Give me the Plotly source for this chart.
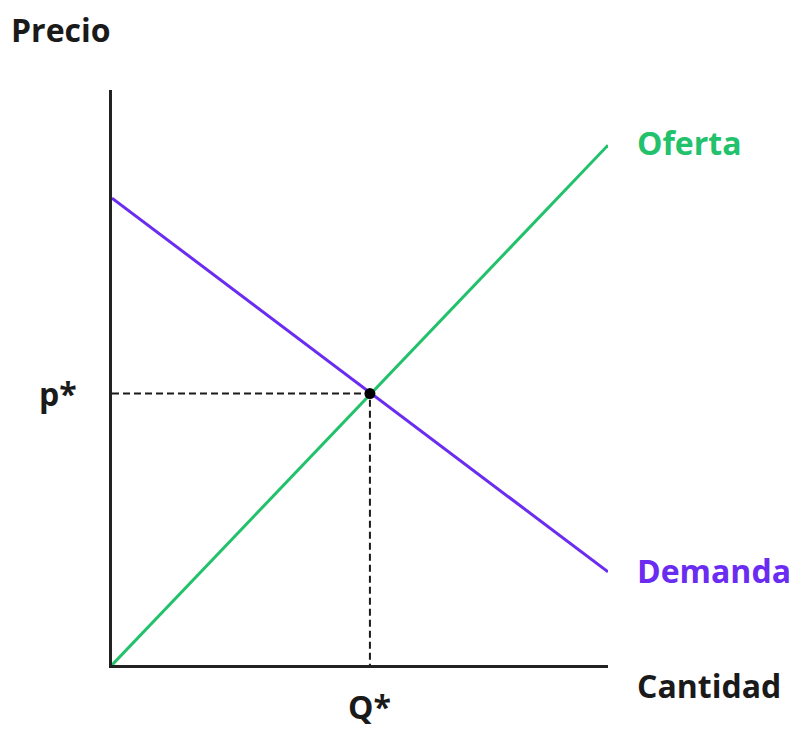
import plotly.graph_objects as go

# cantidad (x) and precio (y) for the two curves
cantidad = [0, 10]
oferta = [0, 9.04]
demanda = [8.12, 1.62]

# equilibrium point
q_eq = 5.2
p_eq = 4.72

x_rango = [0, 10]
y_rango = [0, 10]

verde = "#22c16b"
morado = "#6a2cf0"
negro = "#1a1a1a"
fuente = "Open Sans"

fig = go.Figure()

fig.add_trace(go.Scatter(x=cantidad, y=oferta, mode="lines",
                         line=dict(color=verde, width=3), hoverinfo="skip"))
fig.add_trace(go.Scatter(x=cantidad, y=demanda, mode="lines",
                         line=dict(color=morado, width=3), hoverinfo="skip"))

# dashed guides to the axes
fig.add_trace(go.Scatter(x=[0, q_eq, q_eq], y=[p_eq, p_eq, 0], mode="lines",
                         line=dict(color=negro, width=2, dash="7px,4px"),
                         hoverinfo="skip"))
fig.add_trace(go.Scatter(x=[q_eq], y=[p_eq], mode="markers",
                         marker=dict(color="black", size=11)))


def a_paper(v, rango):
    return (v - rango[0]) / (rango[1] - rango[0])


# labels sit outside the axes, so they go in paper coordinates
labels = [
    ("Precio", -2.08, 11.06, "left", negro),
    ("p*", -0.67, p_eq, "right", negro),
    ("Q*", q_eq, -0.72, "center", negro),
    ("Cantidad", 10.55, -0.35, "left", negro),
    ("Oferta", 10.55, 9.08, "left", verde),
    ("Demanda", 10.55, 1.65, "left", morado),
]
for txt, x, y, anchor, color in labels:
    fig.add_annotation(x=a_paper(x, x_rango), y=a_paper(y, y_rango),
                       xref="paper", yref="paper", text="<b>%s</b>" % txt,
                       showarrow=False, xanchor=anchor, yanchor="middle",
                       font=dict(family=fuente, size=32, color=color))

fig.update_xaxes(range=x_rango, showline=True, linewidth=3, linecolor="#222",
                 showgrid=False, zeroline=False, showticklabels=False, ticks="")
fig.update_yaxes(range=y_rango, showline=True, linewidth=3, linecolor="#222",
                 showgrid=False, zeroline=False, showticklabels=False, ticks="")

fig.update_layout(
    width=790,
    height=721,
    margin=dict(l=104, r=190, t=82, b=64),
    plot_bgcolor="white",
    paper_bgcolor="white",
    showlegend=False,
)

fig.write_html("out.html")
